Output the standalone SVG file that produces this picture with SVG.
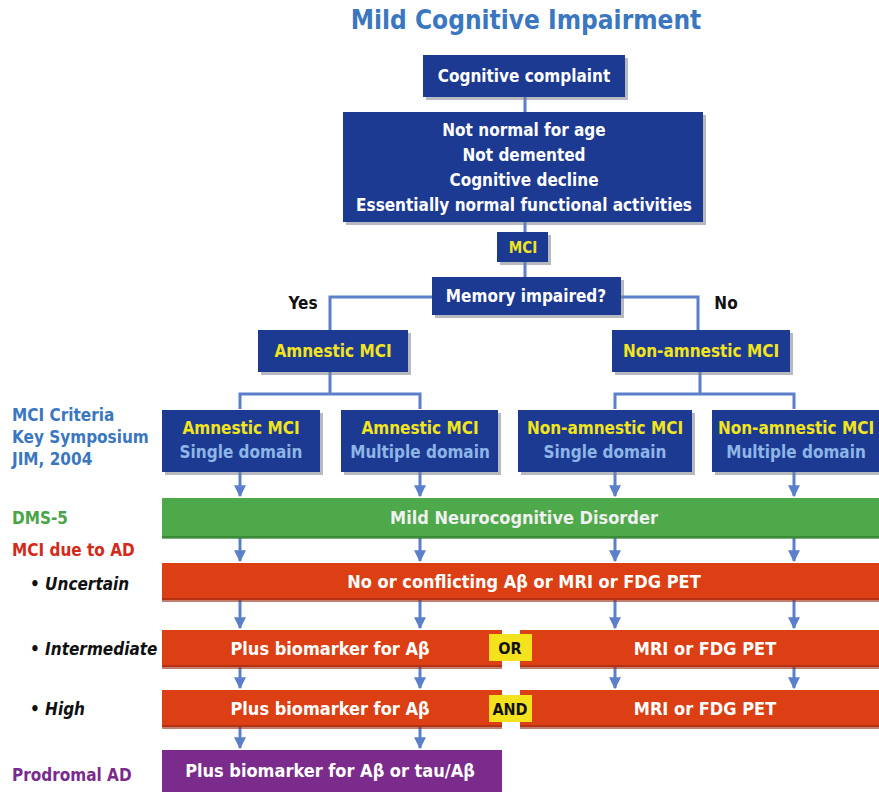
<svg xmlns="http://www.w3.org/2000/svg" width="879" height="792" viewBox="0 0 879 792">
<defs>
<style>
text{font-family:"Liberation Sans Narrow","DejaVu Sans Condensed","Liberation Sans",sans-serif;font-weight:bold;}
.bx{fill:#1d3a93;}
.sh{fill:#7a7f8c;opacity:0.55;}
.w{fill:#ffffff;font-size:17px;text-anchor:middle;}
.y{fill:#f2e51c;font-size:17px;text-anchor:middle;}
.lb{fill:#8db6e6;font-size:17px;text-anchor:middle;}
.ln{stroke:#5b7fc8;stroke-width:3;fill:none;}
.red{fill:#dc3f14;}
.rsh{fill:#9a2a10;opacity:0.6;}
.side{font-size:17px;}
.rt{fill:#ffffff;font-size:18px;text-anchor:middle;}
</style>
<marker id="ah" viewBox="0 0 10 10" refX="9" refY="5" markerWidth="4" markerHeight="4" orient="auto"><path d="M0,0 L10,5 L0,10 Z" fill="#5b7fc8"/></marker>
</defs>
<rect width="879" height="792" fill="#ffffff"/>
<text x="526" y="29" style="font-size:26px;fill:#3b77c0;text-anchor:middle;">Mild Cognitive Impairment</text>

<g id="connectors">
<path class="ln" d="M525 97 V112 M525 222 V232 M525 262 V277"/>
<path class="ln" d="M432 297 H330 V330 M621 297 H698 V330"/>
<path class="ln" d="M330 372 V394 M240 409 V394 H420 V409"/>
<path class="ln" d="M700 372 V394 M615 409 V394 H794 V409"/>
<g class="ln" marker-end="url(#ah)">
<path d="M240 472 V496"/><path d="M420 472 V496"/><path d="M615 472 V496"/><path d="M794 472 V496"/>
<path d="M240 538 V561"/><path d="M420 538 V561"/><path d="M615 538 V561"/><path d="M794 538 V561"/>
<path d="M240 600 V628"/><path d="M420 600 V628"/><path d="M615 600 V628"/><path d="M794 600 V628"/>
<path d="M240 667 V688"/><path d="M420 667 V688"/><path d="M615 667 V688"/><path d="M794 667 V688"/>
<path d="M240 727 V748"/><path d="M420 727 V748"/>
</g>
</g>

<g id="complaint"><rect class="sh" x="426" y="58" width="202" height="42"/><rect class="bx" x="423" y="55" width="202" height="42"/><text class="w" x="524" y="82">Cognitive complaint</text></g>
<g id="criteria"><rect class="sh" x="346" y="115" width="360" height="110"/><rect class="bx" x="343" y="112" width="360" height="110"/>
<text class="w" x="524" y="136">Not normal for age</text>
<text class="w" x="524" y="161">Not demented</text>
<text class="w" x="524" y="186">Cognitive decline</text>
<text class="w" x="524" y="211">Essentially normal functional activities</text></g>
<g id="mci"><rect class="sh" x="500" y="235" width="51" height="30"/><rect class="bx" x="497" y="232" width="51" height="30"/><text class="y" x="523" y="253" style="font-size:15px">MCI</text></g>
<g id="memory"><rect class="sh" x="435" y="280" width="189" height="38"/><rect class="bx" x="432" y="277" width="189" height="38"/><text class="w" x="526" y="302">Memory impaired?</text></g>
<text x="303" y="309" style="font-size:17px;fill:#111;text-anchor:middle;">Yes</text>
<text x="726" y="309" style="font-size:17px;fill:#111;text-anchor:middle;">No</text>

<g id="amnestic"><rect class="sh" x="261" y="333" width="150" height="42"/><rect class="bx" x="258" y="330" width="150" height="42"/><text class="y" x="333" y="357">Amnestic MCI</text></g>
<g id="nonamnestic"><rect class="sh" x="615" y="333" width="178" height="42"/><rect class="bx" x="612" y="330" width="178" height="42"/><text class="y" x="701" y="357">Non-amnestic MCI</text></g>

<g id="am-single"><rect class="sh" x="165" y="413" width="158" height="62"/><rect class="bx" x="162" y="410" width="158" height="62"/><text class="y" x="241" y="434">Amnestic MCI</text><text class="lb" x="241" y="458">Single domain</text></g>
<g id="am-multi"><rect class="sh" x="344" y="413" width="157" height="62"/><rect class="bx" x="341" y="410" width="157" height="62"/><text class="y" x="420" y="434">Amnestic MCI</text><text class="lb" x="420" y="458">Multiple domain</text></g>
<g id="non-single"><rect class="sh" x="521" y="413" width="174" height="62"/><rect class="bx" x="518" y="410" width="174" height="62"/><text class="y" x="605" y="434">Non-amnestic MCI</text><text class="lb" x="605" y="458">Single domain</text></g>
<g id="non-multi"><rect class="sh" x="715" y="413" width="164" height="62"/><rect class="bx" x="712" y="410" width="167" height="62"/><text class="y" x="796" y="434">Non-amnestic MCI</text><text class="lb" x="796" y="458">Multiple domain</text></g>

<g id="side-labels">
<text class="side" x="12" y="421" fill="#3b77c0">MCI Criteria</text>
<text class="side" x="12" y="443" fill="#3b77c0">Key Symposium</text>
<text class="side" x="12" y="465" fill="#3b77c0">JIM, 2004</text>
<text class="side" x="12" y="524" fill="#4aa448">DMS-5</text>
<text class="side" x="12" y="556" fill="#d42a1a">MCI due to AD</text>
<text class="side" x="30" y="590" fill="#111" font-style="italic">• Uncertain</text>
<text class="side" x="30" y="655" fill="#111" font-style="italic">• Intermediate</text>
<text class="side" x="30" y="715" fill="#111" font-style="italic">• High</text>
<text class="side" x="12" y="781" fill="#7b2b8c">Prodromal AD</text>
</g>

<g id="dsm5"><rect x="162" y="498" width="717" height="40" fill="#4ea94a"/><rect x="162" y="536" width="717" height="3" fill="#2f7a2e" opacity="0.6"/><text class="rt" x="524" y="524" style="fill:#f0f0f0">Mild Neurocognitive Disorder</text></g>
<g id="uncertain"><rect class="red" x="162" y="563" width="717" height="37"/><rect class="rsh" x="162" y="598" width="717" height="4"/><text class="rt" x="524" y="588">No or conflicting Aβ or MRI or FDG PET</text></g>
<g id="intermediate">
<rect class="red" x="162" y="630" width="340" height="37"/><rect class="rsh" x="162" y="665" width="340" height="4"/>
<rect class="red" x="520" y="630" width="359" height="37"/><rect class="rsh" x="520" y="665" width="359" height="4"/>
<text class="rt" x="330" y="655">Plus biomarker for Aβ</text>
<text class="rt" x="705" y="655">MRI or FDG PET</text>
<rect x="489" y="634" width="43" height="27" fill="#f4e21c"/>
<text x="510" y="654" style="font-size:16px;fill:#111;text-anchor:middle;">OR</text>
</g>
<g id="high">
<rect class="red" x="162" y="690" width="340" height="37"/><rect class="rsh" x="162" y="725" width="340" height="4"/>
<rect class="red" x="520" y="690" width="359" height="37"/><rect class="rsh" x="520" y="725" width="359" height="4"/>
<text class="rt" x="330" y="715">Plus biomarker for Aβ</text>
<text class="rt" x="705" y="715">MRI or FDG PET</text>
<rect x="489" y="695" width="43" height="27" fill="#f4e21c"/>
<text x="510" y="715" style="font-size:16px;fill:#111;text-anchor:middle;">AND</text>
</g>
<g id="prodromal"><rect x="162" y="750" width="340" height="42" fill="#7b2b8c"/><text class="rt" x="330" y="777">Plus biomarker for Aβ or tau/Aβ</text></g>
</svg>
